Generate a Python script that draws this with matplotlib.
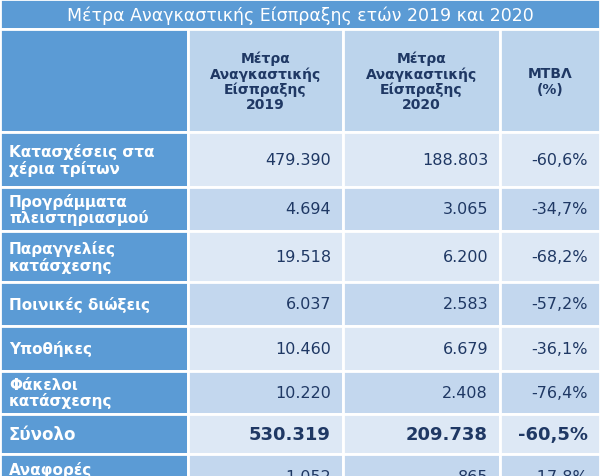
import matplotlib
matplotlib.use("Agg")
import matplotlib.pyplot as plt
from matplotlib.patches import Rectangle

title = "Μέτρα Αναγκαστικής Είσπραξης ετών 2019 και 2020"
headers = ["Μέτρα\nΑναγκαστικής\nΕίσπραξης\n2019",
           "Μέτρα\nΑναγκαστικής\nΕίσπραξης\n2020",
           "ΜΤΒΛ\n(%)"]
categories = ["Κατασχέσεις στα\nχέρια τρίτων", "Προγράμματα\nπλειστηριασμού",
              "Παραγγελίες\nκατάσχεσης", "Ποινικές διώξεις", "Υποθήκες",
              "Φάκελοι\nκατάσχεσης", "Σύνολο", "Αναφορές\nστον εισαγγελέα"]
values_2019 = ["479.390", "4.694", "19.518", "6.037", "10.460", "10.220", "530.319", "1.052"]
values_2020 = ["188.803", "3.065", "6.200", "2.583", "6.679", "2.408", "209.738", "865"]
change = ["-60,6%", "-34,7%", "-68,2%", "-57,2%", "-36,1%", "-76,4%", "-60,5%", "-17,8%"]

W, H = 600, 477
col_x = [0, 188, 343, 500, 600]
row_y = [133, 188, 232, 283, 327, 372, 415, 455, 505]
dark = "#5b9bd5"
light = "#dde8f5"
mid = "#c3d7ee"
navy = "#1f3864"

fig = plt.figure(figsize=(6, 4.77), dpi=100)
ax = fig.add_axes([0, 0, 1, 1])
ax.set_xlim(0, W)
ax.set_ylim(H, 0)
ax.axis("off")

def cell(x0, y0, x1, y1, color):
    ax.add_patch(Rectangle((x0, y0), x1 - x0, y1 - y0, facecolor=color,
                           edgecolor="white", linewidth=2))

# title band
cell(0, 0, W, 30, dark)
ax.text(W / 2, 16, title, ha="center", va="center", color="white", fontsize=12.5)

# header row
cell(0, 30, col_x[1], row_y[0], dark)
for j, h in enumerate(headers):
    cell(col_x[j + 1], 30, col_x[j + 2], row_y[0], "#bcd4ec")
    ax.text((col_x[j + 1] + col_x[j + 2]) / 2, 82, h, ha="center", va="center",
            color=navy, fontsize=10, fontweight="bold", linespacing=1.1)

for i, cat in enumerate(categories):
    y0, y1 = row_y[i], row_y[i + 1]
    total = cat == "Σύνολο"
    fill = light if (i % 2 == 0 or total) else mid
    cell(0, y0, col_x[1], y1, dark)
    ymid = (y0 + y1) / 2 if i < len(categories) - 1 else 470
    ax.text(9, ymid if i < len(categories) - 1 else 462, cat, ha="left",
            va="center" if i < len(categories) - 1 else "top",
            color="white", fontsize=11 if not total else 12,
            fontweight="bold", linespacing=1.05)
    for j, v in enumerate([values_2019[i], values_2020[i], change[i]]):
        cell(col_x[j + 1], y0, col_x[j + 2], y1, fill)
        ax.text(col_x[j + 2] - 12, ymid + (8 if i == len(categories) - 1 else 0), v,
                ha="right", va="center", color=navy,
                fontsize=13 if total else 11.5,
                fontweight="bold" if total else "normal")

fig.savefig("out.png", dpi=100)
